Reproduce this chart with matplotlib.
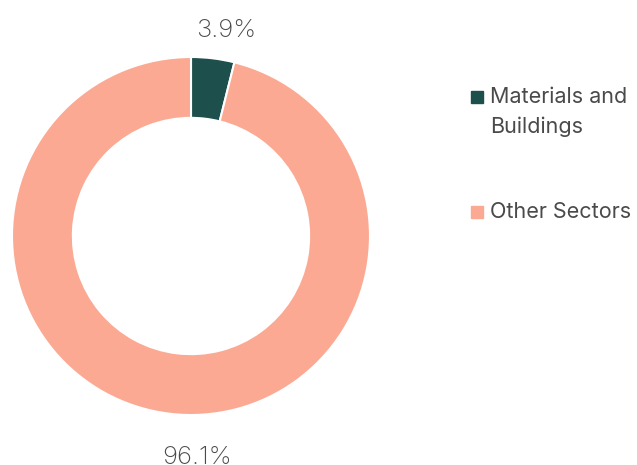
import matplotlib.pyplot as plt
from matplotlib.patches import Rectangle

# data
labels = ['Materials and\nBuildings', 'Other Sectors']
values = [3.9, 96.1]
colors = ['#1d4f4c', '#fba992']
pct_labels = ['3.9%', '96.1%']

plt.rcParams['font.family'] = ['Inter', 'DejaVu Sans']

fig = plt.figure(figsize=(6.37, 4.65), dpi=100)
W, H = 637, 465

# donut axes: centre (191, 236) px, outer radius 179 px
cx, cy, r = 191, 236, 179
ax = fig.add_axes([(cx - r) / W, (H - cy - r) / H, 2 * r / W, 2 * r / H])

wedges, texts = ax.pie(
    values, colors=colors, startangle=90, counterclock=False,
    wedgeprops=dict(width=0.34, edgecolor='white', linewidth=1.5))
ax.set_aspect('equal')
ax.set_xlim(-1, 1)
ax.set_ylim(-1, 1)

# value labels outside the ring
label_pos = [(0.196, 1.148), (0.034, -1.238)]
for txt, (x, y) in zip(pct_labels, label_pos):
    ax.text(x, y, txt, ha='center', va='center', fontsize=18.5,
            fontweight='light', color='#4a4a4a', clip_on=False)

# legend, drawn by hand so the marker sits on the first text line
leg_y = [97, 212]
for lab, col, y in zip(labels, colors, leg_y):
    fig.add_artist(Rectangle((471 / W, (H - y - 6) / H), 12 / W, 12 / H,
                             transform=fig.transFigure, color=col))
    lines = lab.split('\n')
    for i, line in enumerate(lines):
        fig.text(490 / W, (H - y - 30 * i) / H, line, fontsize=15.5,
                 color='#4a4a4a', va='center', transform=fig.transFigure)

plt.savefig('out.png', dpi=100)
